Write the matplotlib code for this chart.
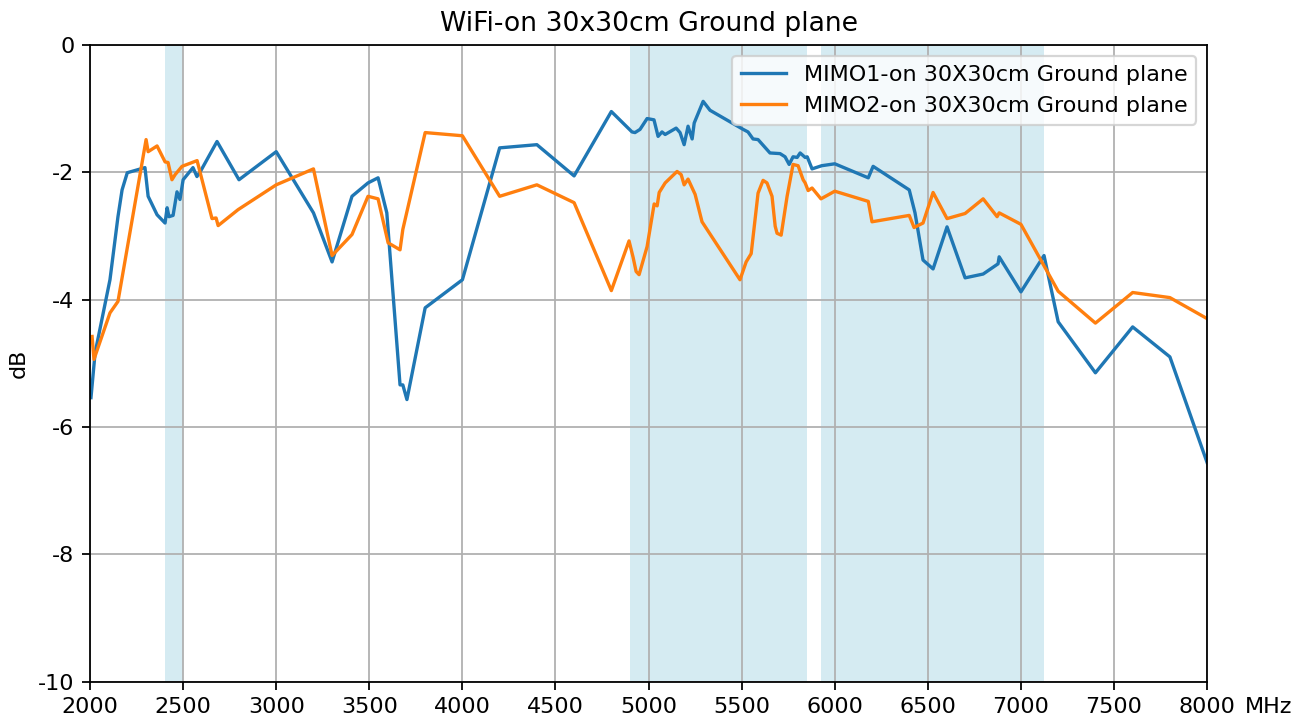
import matplotlib.pyplot as plt

# MIMO1 curve (MHz, dB)
mimo1_freq = [2005, 2027, 2107, 2150, 2172, 2200, 2295, 2312, 2360, 2403, 2414, 2424,
              2446, 2467, 2483, 2500, 2553, 2574, 2591, 2682, 2800, 3000, 3200, 3300,
              3407, 3493, 3547, 3594, 3665, 3680, 3702, 3800, 4000, 4200, 4400, 4600,
              4800, 4911, 4927, 4954, 4992, 5029, 5051, 5072, 5089, 5148, 5169, 5191,
              5212, 5234, 5245, 5293, 5330, 5508, 5534, 5561, 5588, 5652, 5706, 5733,
              5755, 5776, 5798, 5814, 5841, 5852, 5878, 5930, 6000, 6180, 6206, 6400,
              6431, 6474, 6528, 6603, 6700, 6797, 6877, 6883, 7000, 7124, 7200, 7400,
              7600, 7800, 8000]
mimo1_db = [-5.54, -4.84, -3.69, -2.70, -2.28, -2.01, -1.93, -2.38, -2.67, -2.80, -2.56, -2.70,
            -2.68, -2.31, -2.43, -2.12, -1.93, -2.07, -2.00, -1.52, -2.12, -1.68, -2.64, -3.41,
            -2.38, -2.17, -2.09, -2.64, -5.34, -5.34, -5.57, -4.13, -3.69, -1.62, -1.57, -2.06,
            -1.05, -1.37, -1.38, -1.33, -1.16, -1.18, -1.44, -1.37, -1.41, -1.31, -1.38, -1.57,
            -1.28, -1.48, -1.23, -0.89, -1.03, -1.33, -1.37, -1.48, -1.49, -1.70, -1.71, -1.76,
            -1.88, -1.76, -1.77, -1.70, -1.77, -1.76, -1.95, -1.90, -1.87, -2.09, -1.91, -2.28,
            -2.64, -3.38, -3.52, -2.86, -3.66, -3.60, -3.44, -3.33, -3.88, -3.31, -4.35, -5.15,
            -4.43, -4.90, -6.56]

# MIMO2 curve (MHz, dB)
mimo2_freq = [2011, 2021, 2107, 2150, 2301, 2312, 2360, 2403, 2419, 2440, 2457, 2494,
              2575, 2655, 2677, 2688, 2795, 3000, 3200, 3300, 3407, 3493, 3547, 3601,
              3665, 3680, 3800, 4000, 4200, 4400, 4600, 4800, 4895, 4917, 4933, 4949,
              4992, 5030, 5046, 5057, 5089, 5153, 5175, 5191, 5212, 5250, 5287, 5491,
              5524, 5551, 5588, 5615, 5636, 5663, 5680, 5690, 5712, 5744, 5776, 5803,
              5830, 5841, 5857, 5878, 5926, 6000, 6180, 6200, 6400, 6426, 6474, 6528,
              6603, 6700, 6797, 6872, 6883, 7000, 7200, 7400, 7600, 7800, 8000]
mimo2_db = [-4.58, -4.94, -4.21, -4.03, -1.49, -1.68, -1.59, -1.84, -1.85, -2.12, -2.04, -1.91,
            -1.82, -2.73, -2.72, -2.84, -2.59, -2.20, -1.95, -3.31, -2.98, -2.38, -2.42, -3.11,
            -3.22, -2.90, -1.38, -1.43, -2.38, -2.20, -2.48, -3.86, -3.08, -3.34, -3.56, -3.61,
            -3.17, -2.50, -2.53, -2.32, -2.17, -1.99, -2.04, -2.20, -2.11, -2.35, -2.78, -3.69,
            -3.41, -3.28, -2.33, -2.13, -2.17, -2.38, -2.85, -2.96, -2.99, -2.38, -1.88, -1.90,
            -2.12, -2.17, -2.29, -2.25, -2.42, -2.30, -2.46, -2.78, -2.68, -2.87, -2.80, -2.32,
            -2.73, -2.65, -2.42, -2.70, -2.64, -2.82, -3.87, -4.37, -3.89, -3.97, -4.30]

# WiFi bands (MHz)
bands = [(2400, 2500), (4900, 5850), (5925, 7125)]

plt.rcParams["axes.unicode_minus"] = False

fig = plt.figure(figsize=(1305 / 160, 720 / 160), dpi=160)
ax = fig.add_axes([0.069, 0.053, 0.856, 0.885])

for lo, hi in bands:
    ax.axvspan(lo, hi, color="lightblue", alpha=0.5, lw=0, zorder=0)

ax.plot(mimo1_freq, mimo1_db, label="MIMO1-on 30X30cm Ground plane")
ax.plot(mimo2_freq, mimo2_db, label="MIMO2-on 30X30cm Ground plane")

ax.set_xlim(2000, 8000)
ax.set_ylim(-10, 0)
ax.set_xticks(range(2000, 8001, 500))
ax.set_yticks(range(-10, 1, 2))
ax.grid(True)
ax.set_axisbelow(True)
ax.set_ylabel("dB")
ax.set_title("WiFi-on 30x30cm Ground plane")
ax.annotate("MHz", xy=(1, 0), xycoords="axes fraction", xytext=(17, -7),
            textcoords="offset points", va="top", ha="left")
ax.legend(loc="upper right")

plt.savefig("out.png")
